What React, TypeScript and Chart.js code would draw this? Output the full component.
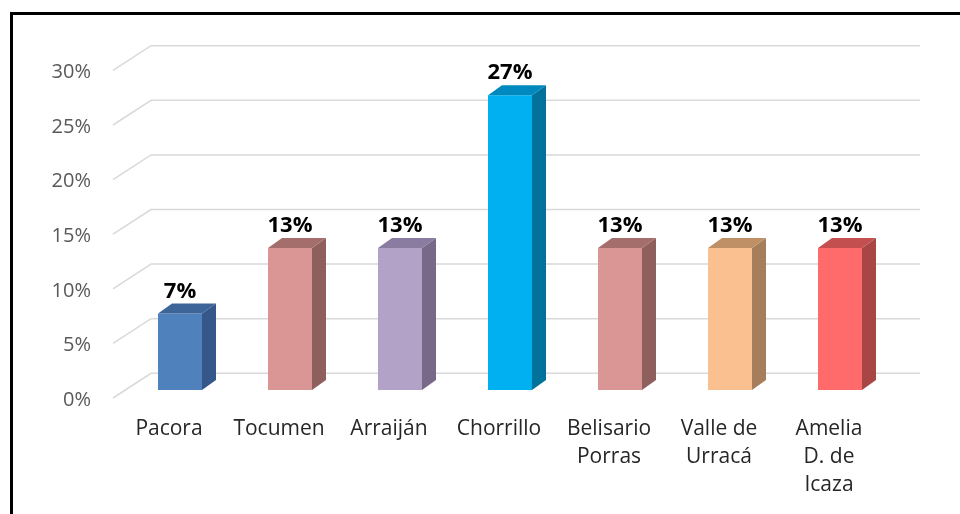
import { useEffect, useRef } from "react";
import { Chart, registerables } from "chart.js";

Chart.register(...registerables);

const categories: string[][] = [
  ["Pacora"],
  ["Tocumen"],
  ["Arraiján"],
  ["Chorrillo"],
  ["Belisario", "Porras"],
  ["Valle de", "Urracá"],
  ["Amelia", "D. de", "Icaza"],
];
const values = [7, 13, 13, 27, 13, 13, 13];
const frontColors = ["#4F81BD", "#D99694", "#B3A2C7", "#00B0F0", "#D99694", "#FAC090", "#FF6B6B"];
const sideColors = ["#35578A", "#8F5F5E", "#776987", "#00729C", "#8F5F5E", "#A67E5C", "#A84646"];
const topColors = ["#3E6598", "#A36E6C", "#8A7BA0", "#0089BE", "#A36E6C", "#BF9066", "#C44F4F"];
const yTicks = [0, 5, 10, 15, 20, 25, 30];

const BAR_DX = 14;
const BAR_DY = -10;

const threeD = {
  id: "threeD",
  beforeDatasetsDraw(chart: any) {
    const { ctx, chartArea, scales } = chart;
    const y = scales.y;
    ctx.save();
    ctx.strokeStyle = "#d9d9d9";
    ctx.lineWidth = 1.5;
    y.ticks.forEach((t: any) => {
      const py = y.getPixelForValue(t.value);
      ctx.beginPath();
      ctx.moveTo(chartArea.left - 12, py + 8);
      ctx.lineTo(chartArea.left + 26, py - 16.7);
      ctx.lineTo(chartArea.right + 25, py - 16.7);
      ctx.stroke();
    });
    ctx.restore();
  },
  afterDatasetsDraw(chart: any) {
    const { ctx } = chart;
    const meta = chart.getDatasetMeta(0);
    ctx.save();
    meta.data.forEach((bar: any, i: number) => {
      const { x, y, base, width } = bar.getProps(["x", "y", "base", "width"], true);
      const x0 = x - width / 2;
      const x1 = x + width / 2;
      ctx.fillStyle = sideColors[i];
      ctx.beginPath();
      ctx.moveTo(x1, y);
      ctx.lineTo(x1 + BAR_DX, y + BAR_DY);
      ctx.lineTo(x1 + BAR_DX, base + BAR_DY);
      ctx.lineTo(x1, base);
      ctx.closePath();
      ctx.fill();
      ctx.fillStyle = topColors[i];
      ctx.beginPath();
      ctx.moveTo(x0, y);
      ctx.lineTo(x1, y);
      ctx.lineTo(x1 + BAR_DX, y + BAR_DY);
      ctx.lineTo(x0 + BAR_DX, y + BAR_DY);
      ctx.closePath();
      ctx.fill();
      ctx.fillStyle = "#000";
      ctx.font = 'bold 22px "Open Sans"';
      ctx.textAlign = "center";
      ctx.textBaseline = "alphabetic";
      ctx.fillText(values[i] + "%", x, y - 16);
    });
    ctx.restore();
  },
};

export default function App() {
  const ref = useRef<HTMLCanvasElement>(null);
  useEffect(() => {
    const chart = new Chart(ref.current!, {
      type: "bar",
      data: {
        labels: categories,
        datasets: [
          {
            data: values,
            backgroundColor: frontColors,
            borderWidth: 0,
            barPercentage: 0.4,
            categoryPercentage: 1,
          },
        ],
      },
      options: {
        responsive: false,
        animation: false,
        layout: { padding: { top: 62.4, right: 65, left: 0, bottom: 0 } },
        plugins: { legend: { display: false }, tooltip: { enabled: false }, title: { display: false } },
        scales: {
          x: {
            grid: { display: false, drawTicks: false },
            border: { display: false },
            ticks: {
              color: "#262626",
              font: { family: "Open Sans", size: 21, lineHeight: 1.333 },
              padding: 25,
              labelOffset: -11,
              maxRotation: 0,
              autoSkip: false,
            },
            afterFit: (s: any) => {
              s.height = 124;
            },
          },
          y: {
            min: 0,
            max: 30,
            afterBuildTicks: (s: any) => {
              s.ticks = yTicks.map((v) => ({ value: v }));
            },
            grid: { display: false, drawTicks: false },
            border: { display: false },
            ticks: {
              color: "#595959",
              font: { family: "Open Sans", size: 20 },
              padding: 34,
              labelOffset: 10,
              callback: (v: any) => v + "%",
            },
            afterFit: (s: any) => {
              s.width = 125;
            },
          },
        },
      },
      plugins: [threeD],
    });
    return () => chart.destroy();
  }, []);
  return (
    <div
      style={{
        position: "fixed",
        left: 0,
        top: 0,
        width: 960,
        height: 514,
        background: "#fff",
        overflow: "hidden",
      }}
    >
      <canvas ref={ref} width={960} height={514} style={{ position: "absolute", left: 0, top: 0 }} />
      <div
        style={{
          position: "absolute",
          left: 10,
          top: 12,
          width: 960,
          height: 520,
          borderTop: "3px solid #000",
          borderLeft: "3px solid #000",
          pointerEvents: "none",
        }}
      />
    </div>
  );
}
